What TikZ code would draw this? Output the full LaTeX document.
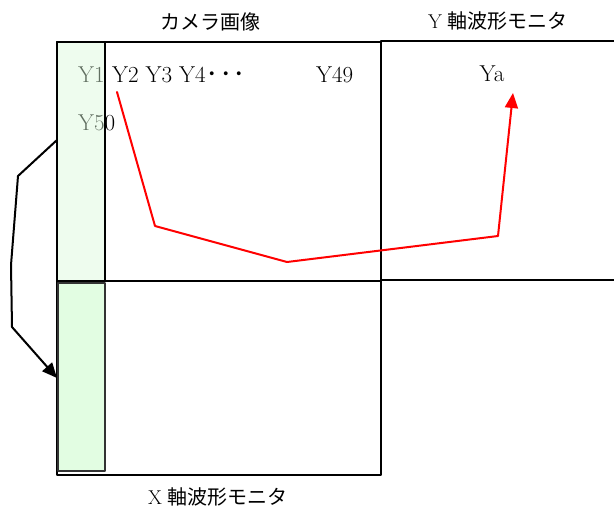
\documentclass[tikz,border=0pt]{standalone}
\usepackage{fontspec}
\newfontfamily\cjk{Noto Sans CJK JP}
\usetikzlibrary{arrows.meta}
\definecolor{stripA}{RGB}{218,249,218}
\definecolor{stripB}{RGB}{226,253,226}
\begin{document}
\begin{tikzpicture}[x=1pt, y=-1pt, line join=round, line cap=round,
	font=\fontsize{20}{24}\selectfont,
	>={Triangle[length=15pt,width=13pt]},
	box/.style={draw, line width=2.2pt},
	lbl/.style={inner sep=0pt, anchor=base west, font=\fontsize{23}{27}\selectfont},
	redline/.style={draw=red, line width=2pt},
	blkline/.style={draw=black, line width=2pt}]
		\useasboundingbox (0,0) rectangle (614,515);
		% titles
		\node (tcam) at (210,22) {\cjk カメラ画像};
		\node (tymon) at (498,21) {Y \cjk 軸波形モニタ};
		\node (txmon) at (218,497) {X \cjk 軸波形モニタ};
		% boxes
		\draw[box] (57,42) rectangle (381,281);
		\draw[box] (381,41) rectangle (617,280);
		\draw[box] (57,281) rectangle (381,475);
		% row labels
		\node[lbl] (y1) at (78,82) {Y1};
		\node[lbl] (y2) at (112,82) {Y2 Y3 Y4{\cjk\hspace{1pt}･\hspace{2pt}･\hspace{2pt}･}};
		\node[lbl] (y49) at (316,82) {Y49};
		\node[lbl] (y50) at (78,130) {Y50};
		\node[lbl, anchor=base] (ya) at (492,81) {Ya};
		% strips
		\draw[line width=2.2pt, fill=stripA, fill opacity=0.45] (57,42) rectangle (105,281);
		\draw[line width=1.8pt, draw=black!80, fill=stripB] (58,283) rectangle (105,471);
		% red path
		\coordinate (r0) at (117,92);
		\coordinate (r1) at (155,226);
		\coordinate (r2) at (287,262);
		\coordinate (r3) at (498,236);
		\coordinate (r4) at (513,93);
		\draw[redline, ->, red] (r0)--(r1)--(r2)--(r3)--(r4);
		% black path
		\coordinate (b0) at (57,140);
		\coordinate (b1) at (18,176);
		\coordinate (b2) at (11,265);
		\coordinate (b3) at (12,327);
		\coordinate (b4) at (57,378);
		\draw[blkline, ->] (b0)--(b1)--(b2)--(b3)--(b4);
		\end{tikzpicture}
\end{document}
